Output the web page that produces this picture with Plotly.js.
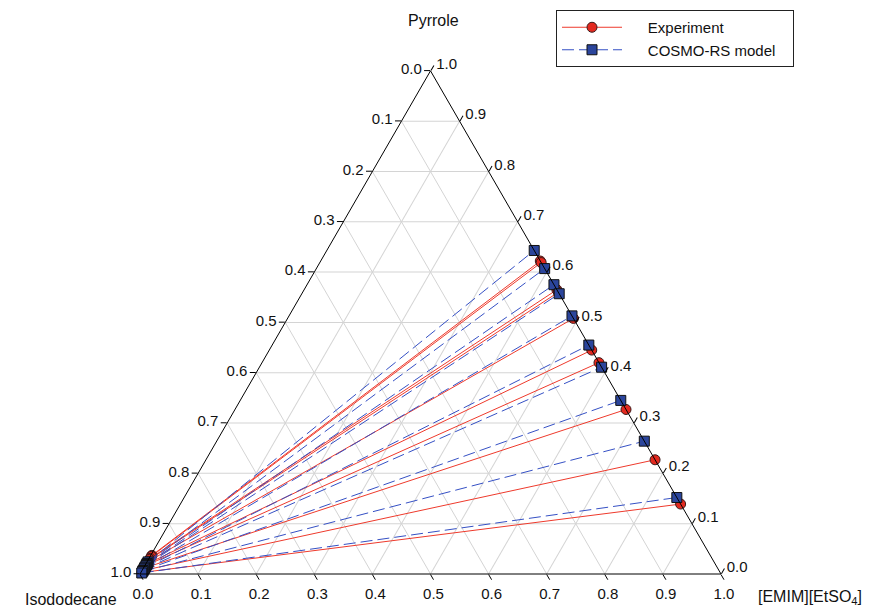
<!DOCTYPE html>
<html>
<head>
<meta charset="utf-8">
<script src="https://cdn.plot.ly/plotly-3.0.1.min.js"></script>
<style>html,body{margin:0;padding:0;background:#fff;}#chart{width:881px;height:611px;}</style>
</head>
<body>
<div id="chart"></div>
<script>
// Tie lines: raffinate (isododecane-rich) and extract ([EMIM][EtSO4]-rich) phases
// Mass fractions: pyrrole, isododecane, [EMIM][EtSO4]
const expRaffPyrrole   = [0.037, 0.035, 0.031, 0.029, 0.025, 0.020, 0.017, 0.012, 0.007, 0.003];
const expRaffEmim      = [0.002, 0.002, 0.002, 0.002, 0.002, 0.002, 0.002, 0.002, 0.002, 0.002];
const expExtPyrrole    = [0.622, 0.619, 0.565, 0.560, 0.508, 0.445, 0.420, 0.327, 0.227, 0.139];
const expExtIsodod     = [0.000, 0.000, 0.000, 0.000, 0.000, 0.000, 0.000, 0.000, 0.000, 0.000];

const modRaffPyrrole   = [0.024, 0.021, 0.019, 0.017, 0.014, 0.012, 0.010, 0.007, 0.005, 0.002];
const modRaffEmim      = [0.002, 0.002, 0.002, 0.002, 0.002, 0.002, 0.002, 0.002, 0.002, 0.002];
const modExtPyrrole    = [0.643, 0.607, 0.575, 0.557, 0.513, 0.455, 0.411, 0.345, 0.264, 0.152];
const modExtIsodod     = [0.000, 0.000, 0.000, 0.000, 0.000, 0.000, 0.000, 0.000, 0.000, 0.000];

const tickVals = [0, 0.1, 0.2, 0.3, 0.4, 0.5, 0.6, 0.7, 0.8, 0.9, 1.0];
const tickTextFwd = ["0.0","0.1","0.2","0.3","0.4","0.5","0.6","0.7","0.8","0.9","1.0"];
const tickTextRev = tickTextFwd.slice().reverse();

const titleTop = 'Pyrrole';
const titleLeft = 'Isododecane';
const titleRight = '[EMIM][EtSO<sub>4</sub>]';
const seriesNames = ['Experiment', 'COSMO-RS model'];

function tieArrays(raffP, raffE, extP, extI) {
  const a = [], b = [], c = [];
  for (let i = 0; i < raffP.length; i++) {
    a.push(raffP[i]); c.push(raffE[i]); b.push(1 - raffP[i] - raffE[i]);
    a.push(extP[i]); b.push(extI[i]); c.push(1 - extP[i] - extI[i]);
    a.push(null); b.push(null); c.push(null);
  }
  return {a, b, c};
}

const exp = tieArrays(expRaffPyrrole, expRaffEmim, expExtPyrrole, expExtIsodod);
const mod = tieArrays(modRaffPyrrole, modRaffEmim, modExtPyrrole, modExtIsodod);
const pad = '\u00a0'.repeat(5);
const padR = '\u00a0'.repeat(3);

const traces = [
  {
    type: 'scatterternary', mode: 'lines+markers', name: pad + seriesNames[0],
    a: exp.a, b: exp.b, c: exp.c, connectgaps: false,
    line: {color: '#ee3a2c', width: 1},
    marker: {symbol: 'circle', size: 10, color: '#e3291f', line: {color: '#3a1a1a', width: 1}},
    cliponaxis: false
  },
  {
    type: 'scatterternary', mode: 'lines+markers', name: pad + seriesNames[1] + padR,
    a: mod.a, b: mod.b, c: mod.c, connectgaps: false,
    line: {color: '#3550c4', width: 1, dash: '12px,5px'},
    marker: {symbol: 'square', size: 10, color: '#2b459c', line: {color: '#111', width: 1}},
    cliponaxis: false
  }
];

const fontFam = 'Liberation Sans, Arial, sans-serif';
function makeAxis() {
  return {
    tickmode: 'array', tickvals: tickVals.slice(), ticktext: tickTextRev.slice(),
    ticks: 'outside', ticklen: 6, tickcolor: '#000', tickwidth: 1,
    linecolor: '#000', linewidth: 1,
    showgrid: true, gridcolor: '#d4d4d4', gridwidth: 1,
    tickfont: {family: fontFam, size: 15, color: '#111'},
    title: {text: ''},
    min: 0
  };
}

const W = 581, H = W * Math.sqrt(3) / 2;
const x0 = 140, yBottom = 574;
const titleFont = {family: fontFam, size: 16, color: '#111'};
const layout = {
  width: 881, height: 611,
  margin: {l: 0, r: 0, t: 0, b: 0},
  paper_bgcolor: '#fff',
  font: {family: fontFam, color: '#111', size: 15},
  showlegend: true,
  legend: {
    x: 556/881, y: 1 - 10/611, xanchor: 'left', yanchor: 'top',
    bordercolor: '#222', borderwidth: 1, bgcolor: '#fff',
    font: {family: fontFam, size: 15, color: '#111'},
    itemwidth: 60
  },
  annotations: [
    {text: titleTop, xref: 'paper', yref: 'paper', x: 433/881, y: 1 - 20/611,
     xanchor: 'center', yanchor: 'middle', showarrow: false, font: titleFont},
    {text: titleLeft, xref: 'paper', yref: 'paper', x: 119/881, y: 1 - 599/611,
     xanchor: 'right', yanchor: 'middle', showarrow: false, font: titleFont},
    {text: titleRight, xref: 'paper', yref: 'paper', x: 756/881, y: 1 - 597/611,
     xanchor: 'left', yanchor: 'middle', showarrow: false, font: titleFont}
  ],
  ternary: {
    domain: {x: [x0/881, (x0 + W)/881], y: [(611 - yBottom)/611, (611 - yBottom + H)/611]},
    bgcolor: '#fff',
    sum: 1,
    aaxis: makeAxis(),
    baxis: makeAxis(),
    caxis: makeAxis()
  }
};

Plotly.newPlot('chart', traces, layout, {displayModeBar: false, staticPlot: true});
</script>
</body>
</html>
